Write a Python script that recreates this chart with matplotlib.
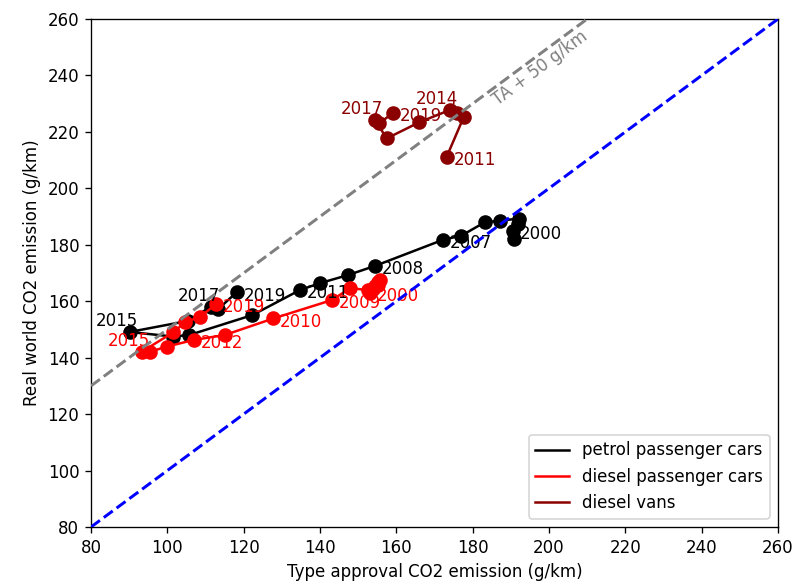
import matplotlib
matplotlib.use("Agg")
import matplotlib.pyplot as plt
from matplotlib.lines import Line2D

# ---- data ----
petrol_years = list(range(2000, 2020))
petrol_ta = [190.6, 190.7, 191.8, 192.1, 187.1, 183.2, 177.0, 172.3, 154.4, 147.4,
             140.0, 134.8, 122.3, 105.7, 101.4, 90.1, 105.3, 111.5, 113.3, 118.2]
petrol_rw = [185.0, 181.9, 187.2, 189.3, 188.5, 188.0, 183.2, 181.8, 172.5, 169.3,
             166.4, 164.0, 155.1, 148.0, 147.5, 149.1, 153.0, 158.1, 157.2, 163.2]
petrol_labels = [2000, 2007, 2008, 2011, 2015, 2017, 2019]

diesel_years = list(range(2000, 2020))
diesel_ta = [153.0, 154.0, 155.2, 155.8, 155.3, 154.5, 153.5, 152.5, 147.9, 143.1,
             127.8, 115.0, 107.0, 99.8, 95.5, 93.3, 101.6, 104.6, 108.6, 112.8]
diesel_rw = [163.0, 164.5, 165.8, 167.5, 166.8, 165.5, 164.5, 164.0, 164.6, 160.4,
             153.9, 148.0, 146.3, 143.9, 142.1, 142.1, 149.0, 152.5, 154.5, 159.0]
diesel_labels = [2000, 2009, 2010, 2012, 2015, 2019]

vans_years = list(range(2011, 2020))
vans_ta = [173.2, 177.7, 176.0, 174.1, 166.0, 157.5, 154.4, 155.5, 159.2]
vans_rw = [211.2, 225.4, 226.6, 227.8, 223.4, 217.7, 224.2, 223.0, 226.8]
vans_labels = [2011, 2014, 2017, 2019]

series_names = ["petrol passenger cars", "diesel passenger cars", "diesel vans"]
series_colors = ["black", "red", "darkred"]

ref_offset = 50
axis_min, axis_max = 80, 260

# labels placed above-left instead of to the right
upper_left = {("petrol passenger cars", 2015), ("petrol passenger cars", 2017),
              ("diesel passenger cars", 2015), ("diesel vans", 2017),
              ("diesel vans", 2014)}

fig = plt.figure(figsize=(798 / 120, 585 / 120), dpi=120)
ax = fig.add_axes([91 / 798, 58 / 585, 687 / 798, 508 / 585])

series = [
    (petrol_years, petrol_ta, petrol_rw, petrol_labels),
    (diesel_years, diesel_ta, diesel_rw, diesel_labels),
    (vans_years, vans_ta, vans_rw, vans_labels),
]

handles = []
for name, color, (yrs, xs, ys, labs) in zip(series_names, series_colors, series):
    ax.plot(xs, ys, color=color, lw=1.5, zorder=2)
    ax.scatter(xs, ys, color=color, s=60, zorder=2)
    handles.append(Line2D([], [], color=color, lw=1.5, label=name))
    for yr, x, y in zip(yrs, xs, ys):
        if yr in labs:
            if (name, yr) in upper_left:
                ax.annotate(str(yr), (x, y), xytext=(5, 1), textcoords="offset points",
                            ha="right", va="bottom", color=color, fontsize=10, zorder=3)
            else:
                ax.annotate(str(yr), (x, y), xytext=(4, -2), textcoords="offset points",
                            ha="left", va="center", color=color, fontsize=10, zorder=3)

ax.plot([axis_min, axis_max], [axis_min, axis_max], color="blue", ls="--", lw=1.8, zorder=4)
ax.plot([axis_min, axis_max], [axis_min + ref_offset, axis_max + ref_offset],
        color="gray", ls="--", lw=1.8, zorder=4)
ax.text(197.6, 242.6, "TA + 50 g/km", color="gray", fontsize=10, rotation=36.5,
        ha="center", va="center", rotation_mode="anchor")

ax.set_xlim(axis_min, axis_max)
ax.set_ylim(axis_min, axis_max)
ax.set_xticks(range(80, 261, 20))
ax.set_yticks(range(80, 261, 20))
ax.tick_params(labelsize=10)
ax.set_xlabel("Type approval CO2 emission (g/km)", fontsize=10)
ax.set_ylabel("Real world CO2 emission (g/km)", fontsize=10)
ax.legend(handles=handles, loc="lower right", fontsize=10)

fig.savefig("out.png", dpi=120)
